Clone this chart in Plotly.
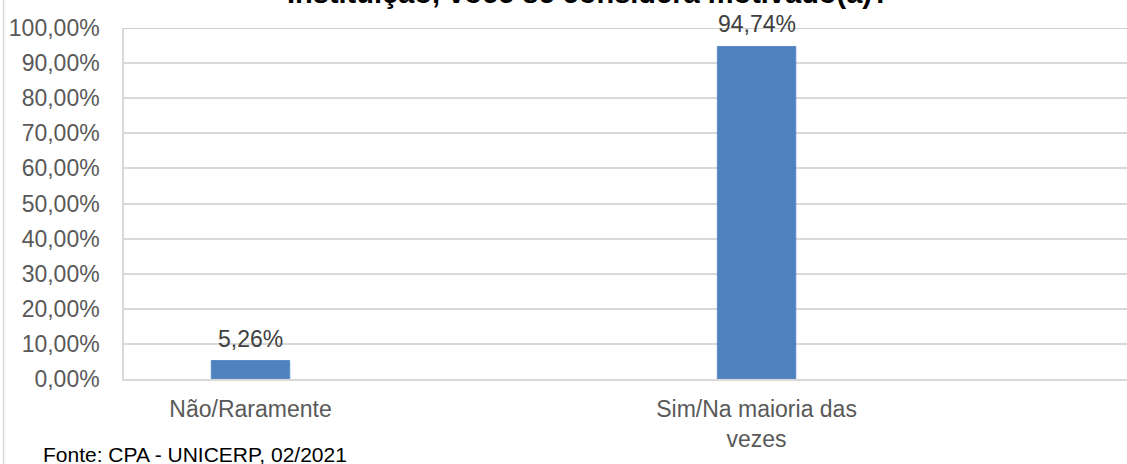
import plotly.graph_objects as go

categories = ["Não/Raramente", " ", "Sim/Na maioria das<br>vezes", "  "]
values = [5.26, None, 94.74, None]
y_ticks = [0, 10, 20, 30, 40, 50, 60, 70, 80, 90, 100]
y_tick_labels = [f"{t:.2f}%".replace(".", ",") for t in y_ticks]
title_text = "Instituição, você se considera motivado(a)?"
source_text = "Fonte: CPA - UNICERP, 02/2021"

FONT = "Liberation Sans, Arial, sans-serif"

fig = go.Figure()
fig.add_trace(go.Bar(
    x=categories, y=values, width=0.31,
    marker=dict(color="#4f81bd", line=dict(color="#5b8cc9", width=1)),
    hoverinfo="skip", showlegend=False,
))

annotations = []
for c, v in zip(categories, values):
    if v is None:
        continue
    annotations.append(dict(
        x=c, y=v, xref="x", yref="y", text=f"{v:.2f}%".replace(".", ","),
        showarrow=False, yanchor="bottom", yshift=7,
        font=dict(family=FONT, size=23, color="#404040"),
    ))

annotations.append(dict(
    x=0.4636, y=1.049, xref="paper", yref="paper", text=f"<b>{title_text}</b>",
    showarrow=False, xanchor="center", yanchor="bottom",
    font=dict(family=FONT, size=29, color="#000000"),
))
annotations.append(dict(
    x=-0.0828, y=-0.215, xref="paper", yref="paper", text=source_text,
    showarrow=False, xanchor="left", yanchor="middle",
    font=dict(family=FONT, size=21, color="#000000"),
))

fig.update_layout(
    width=1127, height=464,
    margin=dict(l=124, r=0, t=28, b=85, pad=0),
    paper_bgcolor="white", plot_bgcolor="white",
    font=dict(family=FONT, color="#595959"),
    annotations=annotations,
    shapes=[
        dict(type="line", xref="paper", yref="paper", x0=-0.1201, x1=-0.1201,
             y0=-0.3, y1=1.2, line=dict(color="#d9d9d9", width=1.5)),
        dict(type="line", xref="paper", yref="y", x0=0, x1=1, y0=100, y1=100,
             line=dict(color="#bfbfbf", width=1.5)),
    ],
)
fig.update_xaxes(
    type="category", range=[-0.5, 3.464],
    showgrid=False, showline=True, linecolor="#d9d9d9", linewidth=1.5,
    ticks="outside", ticklen=9, tickcolor="rgba(0,0,0,0)",
    tickfont=dict(family=FONT, size=23, color="#595959"),
    fixedrange=True,
)
fig.update_yaxes(
    range=[0, 100], tickvals=y_ticks, ticktext=y_tick_labels,
    showgrid=True, gridcolor="#d9d9d9", gridwidth=1.5,
    showline=True, linecolor="#d9d9d9", linewidth=1.5,
    ticks="outside", ticklen=18, tickcolor="rgba(0,0,0,0)",
    tickfont=dict(family=FONT, size=23, color="#595959"),
    zeroline=False, fixedrange=True,
)

fig.write_html("out.html", config={"displayModeBar": False},
               post_script="document.body.style.margin='0';")
